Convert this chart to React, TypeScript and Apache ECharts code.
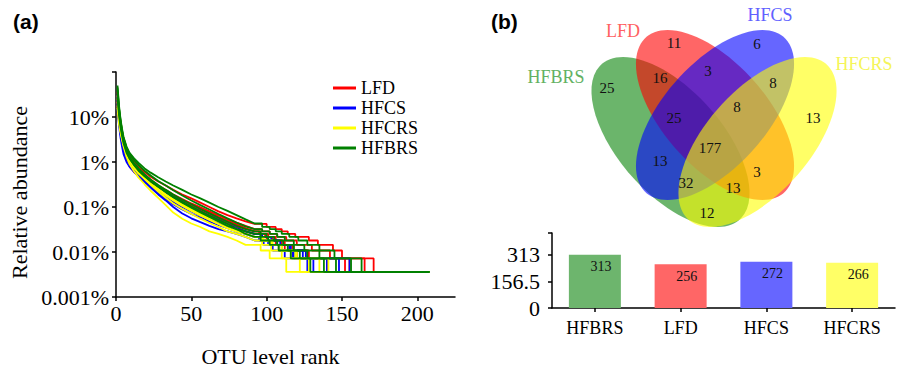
import React, { useEffect, useRef } from 'react';
import * as echarts from 'echarts';

const SERIF = '"Liberation Serif", "Times New Roman", serif';
const SANS = '"Liberation Sans", Arial, sans-serif';

// ---------- Panel (a): rank-abundance curves (relative abundance, %) ----------
const GROUPS = ['LFD', 'HFCS', 'HFCRS', 'HFBRS'];
const GROUP_COLORS = ['#ff0000', '#0000ff', '#ffff00', '#008000'];
const X_TICKS = [0, 50, 100, 150, 200];
const Y_TICKS = ['0.001%', '0.01%', '0.1%', '1%', '10%'];

const RANKS = [1, 2, 3, 4, 5, 7, 9, 12, 15, 19, 23, 28, 33, 38, 44, 50, 56, 62, 68, 74, 80, 86, 92];

const LFD_HEAD = [
  [30, 13, 7.2, 4.6, 3.3, 2.0, 1.45, 1.05, 0.8, 0.6, 0.47, 0.37, 0.3, 0.24, 0.19, 0.155, 0.125, 0.1, 0.08, 0.066, 0.056, 0.048, 0.042],
  [22, 9, 5, 3.2, 2.3, 1.5, 1.15, 0.9, 0.7, 0.52, 0.4, 0.3, 0.24, 0.19, 0.15, 0.12, 0.098, 0.08, 0.065, 0.054, 0.045, 0.038, 0.0324],
  [35, 10, 5.5, 3.6, 2.5, 1.4, 1.0, 0.72, 0.56, 0.43, 0.34, 0.27, 0.21, 0.17, 0.135, 0.11, 0.09, 0.074, 0.06, 0.05, 0.041, 0.034, 0.0288],
  [18, 8, 4.5, 2.8, 1.9, 1.25, 0.95, 0.72, 0.58, 0.45, 0.36, 0.28, 0.22, 0.18, 0.14, 0.112, 0.09, 0.072, 0.058, 0.047, 0.039, 0.0324, 0.0288],
  [26, 11, 6, 3.8, 2.4, 1.1, 0.8, 0.6, 0.48, 0.38, 0.3, 0.24, 0.19, 0.155, 0.125, 0.1, 0.082, 0.066, 0.054, 0.044, 0.036, 0.0288, 0.0252],
];
const LFD_TAIL = [
  [[100, 0.036], [106, 0.0324], [110, 0.0288], [114, 0.0252], [119, 0.0216], [128, 0.018], [134, 0.0144], [144, 0.0108], [150, 0.0072], [171, 0.0036], [208, 0.0036]],
  [[97, 0.0288], [102, 0.0252], [107, 0.0216], [113, 0.018], [120, 0.0144], [130, 0.0108], [142, 0.0072], [165, 0.0036], [208, 0.0036]],
  [[96, 0.0252], [101, 0.0216], [106, 0.018], [112, 0.0144], [118, 0.0108], [128, 0.0072], [155, 0.0036], [208, 0.0036]],
  [[95, 0.0252], [99, 0.0216], [104, 0.018], [110, 0.0144], [117, 0.0108], [127, 0.0072], [152, 0.0036], [208, 0.0036]],
  [[96, 0.0216], [100, 0.018], [106, 0.0144], [112, 0.0108], [120, 0.0072], [140, 0.0036], [208, 0.0036]],
];

const HFCS_HEAD = [
  [20, 8, 4.2, 2.7, 1.8, 1.2, 0.9, 0.68, 0.52, 0.38, 0.28, 0.2, 0.15, 0.115, 0.088, 0.07, 0.058, 0.048, 0.04, 0.034, 0.0288, 0.0252, 0.0216],
  [28, 12, 6.5, 4.0, 2.6, 1.5, 1.1, 0.8, 0.62, 0.47, 0.36, 0.27, 0.2, 0.155, 0.12, 0.094, 0.075, 0.06, 0.048, 0.04, 0.0324, 0.0288, 0.0252],
  [15, 6.5, 3.5, 2.2, 1.5, 1.0, 0.78, 0.6, 0.47, 0.36, 0.27, 0.19, 0.14, 0.1, 0.072, 0.056, 0.046, 0.038, 0.0324, 0.0288, 0.0252, 0.0216, 0.018],
  [24, 10, 5.5, 3.4, 2.2, 1.35, 1.0, 0.76, 0.6, 0.46, 0.36, 0.28, 0.22, 0.17, 0.13, 0.1, 0.08, 0.064, 0.052, 0.042, 0.034, 0.0288, 0.0252],
  [32, 11, 5.8, 3.5, 2.3, 1.3, 0.92, 0.66, 0.5, 0.37, 0.29, 0.22, 0.17, 0.13, 0.1, 0.08, 0.064, 0.052, 0.043, 0.036, 0.0288, 0.0252, 0.0216],
];
const HFCS_TAIL = [
  [[97, 0.018], [103, 0.0144], [110, 0.0108], [118, 0.0072], [131, 0.0036], [208, 0.0036]],
  [[96, 0.0216], [101, 0.018], [107, 0.0144], [115, 0.0108], [124, 0.0072], [148, 0.0036], [208, 0.0036]],
  [[98, 0.0144], [104, 0.0108], [112, 0.0072], [127, 0.0036], [208, 0.0036]],
  [[97, 0.0216], [103, 0.018], [109, 0.0144], [116, 0.0108], [126, 0.0072], [155, 0.0036], [208, 0.0036]],
  [[95, 0.018], [101, 0.0144], [108, 0.0108], [117, 0.0072], [140, 0.0036], [208, 0.0036]],
];

const HFCRS_HEAD = [
  [18, 8.5, 5, 3.2, 2.2, 1.3, 0.9, 0.62, 0.45, 0.32, 0.23, 0.16, 0.11, 0.075, 0.055, 0.043, 0.036, 0.0288, 0.0252, 0.0216, 0.018, 0.0144, 0.0144],
  [30, 14, 8, 5, 3.4, 1.8, 1.2, 0.8, 0.58, 0.42, 0.31, 0.22, 0.16, 0.12, 0.09, 0.07, 0.055, 0.044, 0.036, 0.0288, 0.0252, 0.0216, 0.018],
  [22, 10, 6, 4, 2.8, 1.6, 1.1, 0.75, 0.56, 0.42, 0.32, 0.24, 0.18, 0.14, 0.105, 0.082, 0.065, 0.052, 0.042, 0.034, 0.0288, 0.0252, 0.0216],
  [16, 7, 4.5, 3.2, 2.4, 1.5, 1.05, 0.74, 0.56, 0.43, 0.33, 0.25, 0.19, 0.15, 0.115, 0.09, 0.072, 0.058, 0.047, 0.038, 0.0324, 0.0252, 0.0216],
  [26, 12, 7, 4.4, 3.0, 1.7, 1.15, 0.8, 0.6, 0.44, 0.33, 0.25, 0.19, 0.145, 0.11, 0.085, 0.066, 0.052, 0.042, 0.034, 0.0288, 0.0252, 0.0216],
];
const HFCRS_TAIL = [
  [[96, 0.0108], [102, 0.0072], [113, 0.0036], [208, 0.0036]],
  [[97, 0.0144], [103, 0.0108], [110, 0.0072], [122, 0.0036], [208, 0.0036]],
  [[96, 0.018], [102, 0.0144], [108, 0.0108], [116, 0.0072], [128, 0.0036], [208, 0.0036]],
  [[98, 0.018], [104, 0.0144], [110, 0.0108], [119, 0.0072], [135, 0.0036], [208, 0.0036]],
  [[97, 0.018], [103, 0.0144], [110, 0.0108], [120, 0.0072], [141, 0.0036], [208, 0.0036]],
];

const HFBRS_HEAD = [
  [50, 18, 9, 5.5, 3.6, 2.2, 1.6, 1.2, 0.95, 0.72, 0.58, 0.46, 0.37, 0.3, 0.24, 0.19, 0.155, 0.125, 0.1, 0.082, 0.066, 0.053, 0.043],
  [40, 15, 8, 5, 3.4, 2.1, 1.5, 1.1, 0.85, 0.64, 0.5, 0.38, 0.3, 0.235, 0.18, 0.14, 0.11, 0.088, 0.07, 0.056, 0.045, 0.037, 0.0324],
  [34, 13, 7, 4.4, 2.9, 1.8, 1.3, 0.95, 0.72, 0.53, 0.41, 0.31, 0.24, 0.19, 0.145, 0.115, 0.09, 0.072, 0.058, 0.047, 0.038, 0.0324, 0.0288],
  [27, 11, 6, 3.8, 2.6, 1.6, 1.2, 0.88, 0.66, 0.49, 0.38, 0.29, 0.22, 0.17, 0.13, 0.102, 0.08, 0.064, 0.051, 0.042, 0.0324, 0.0288, 0.0252],
  [45, 16, 8.5, 4.8, 3.0, 1.7, 1.2, 0.85, 0.64, 0.48, 0.37, 0.28, 0.215, 0.165, 0.125, 0.097, 0.076, 0.06, 0.048, 0.038, 0.0324, 0.0252, 0.0216],
];
const HFBRS_TAIL = [
  [[97, 0.036], [102, 0.0324], [106, 0.0288], [110, 0.0252], [115, 0.0216], [121, 0.018], [127, 0.0144], [135, 0.0108], [145, 0.0072], [163, 0.0036], [208, 0.0036]],
  [[97, 0.0288], [102, 0.0252], [107, 0.0216], [112, 0.018], [118, 0.0144], [125, 0.0108], [135, 0.0072], [156, 0.0036], [208, 0.0036]],
  [[96, 0.0252], [100, 0.0216], [105, 0.018], [111, 0.0144], [118, 0.0108], [127, 0.0072], [146, 0.0036], [208, 0.0036]],
  [[96, 0.0216], [101, 0.018], [107, 0.0144], [114, 0.0108], [122, 0.0072], [138, 0.0036], [208, 0.0036]],
  [[96, 0.018], [102, 0.0144], [108, 0.0108], [116, 0.0072], [129, 0.0036], [208, 0.0036]],
];

const GROUP_HEADS = [LFD_HEAD, HFCS_HEAD, HFCRS_HEAD, HFBRS_HEAD];
const GROUP_TAILS = [LFD_TAIL, HFCS_TAIL, HFCRS_TAIL, HFBRS_TAIL];

// ---------- Panel (b): Venn diagram and OTU totals ----------
const VENN_SETS = ['HFBRS', 'LFD', 'HFCS', 'HFCRS'];
const VENN_SET_COLORS = ['rgba(0,128,0,0.58)', 'rgba(255,0,0,0.6)', 'rgba(0,0,255,0.6)', 'rgba(255,255,0,0.6)'];
const VENN_LABEL_COLORS = ['#63b163', '#ff6161', '#6161ff', '#f5f55a'];
const VENN_REGIONS = [
  'HFBRS', 'LFD', 'HFCS', 'HFCRS',
  'HFBRS&LFD', 'LFD&HFCS', 'HFCS&HFCRS',
  'HFBRS&LFD&HFCS', 'LFD&HFCS&HFCRS', 'ALL',
  'HFBRS&HFCS', 'LFD&HFCRS', 'HFBRS&HFCS&HFCRS', 'HFBRS&LFD&HFCRS', 'HFBRS&HFCRS',
];
const VENN_COUNTS = [25, 11, 6, 13, 16, 3, 8, 25, 8, 177, 13, 3, 32, 13, 12];

const BAR_CATEGORIES = ['HFBRS', 'LFD', 'HFCS', 'HFCRS'];
const BAR_VALUES = [313, 256, 272, 266];
const BAR_COLORS = ['#6db56d', '#ff6666', '#6666ff', '#ffff66'];
const BAR_TICKS = [0, 156.5, 313];

// layout (pixel positions of the Venn drawing)
const ELLIPSE_LAYOUT = [
  { x: 670.5, y: 142, rot: -Math.PI / 4 },
  { x: 715, y: 115, rot: -Math.PI / 4 },
  { x: 715, y: 115, rot: Math.PI / 4 },
  { x: 757.5, y: 142, rot: Math.PI / 4 },
];
const SET_LABEL_POS = [[556, 77], [623, 31], [770, 15], [864, 64]];
const REGION_POS = [
  [607, 88], [674, 43], [757, 44], [813, 118],
  [660, 78], [708, 71], [773, 83],
  [674, 118], [737, 107], [710, 148],
  [660, 161], [757, 172], [686, 183], [733, 188], [707, 213],
];

function buildLine(head: number[], tail: number[][]) {
  const pts: number[][] = RANKS.map((r, i) => [r, head[i]]);
  let prev = head[head.length - 1];
  tail.forEach(([r, v]) => {
    // rank-abundance stair: hold previous read level up to rank r, then drop
    pts.push([r, prev]);
    pts.push([r, v]);
    prev = v;
  });
  return pts;
}

function buildOption() {
  const lineSeries: any[] = [];
  GROUPS.forEach((g, gi) => {
    GROUP_HEADS[gi].forEach((head, li) => {
      lineSeries.push({
        name: g,
        type: 'line',
        xAxisIndex: 0,
        yAxisIndex: 0,
        data: buildLine(head, GROUP_TAILS[gi][li]),
        showSymbol: false,
        symbol: 'none',
        color: GROUP_COLORS[gi],
        lineStyle: { width: 1.8, color: GROUP_COLORS[gi] },
        emphasis: { disabled: true },
        silent: true,
      });
    });
  });

  const graphic: any[] = [
    { type: 'text', left: 13, top: 11, style: { text: '(a)', font: `bold 21px ${SANS}`, fill: '#000' } },
    { type: 'text', left: 491, top: 11, style: { text: '(b)', font: `bold 21px ${SANS}`, fill: '#000' } },
  ];
  VENN_SETS.forEach((s, i) => {
    const L = ELLIPSE_LAYOUT[i];
    graphic.push({
      type: 'group',
      x: L.x,
      y: L.y,
      scaleY: 1.076,
      children: [
        {
          type: 'ellipse',
          rotation: L.rot,
          shape: { cx: 0, cy: 0, rx: 100, ry: 50 },
          style: { fill: VENN_SET_COLORS[i] },
        },
      ],
    });
  });
  VENN_SETS.forEach((s, i) => {
    graphic.push({
      type: 'text',
      x: SET_LABEL_POS[i][0],
      y: SET_LABEL_POS[i][1],
      style: { text: s, fontSize: 18, fontFamily: SERIF, fill: VENN_LABEL_COLORS[i], align: 'center', verticalAlign: 'middle' },
    });
  });
  VENN_REGIONS.forEach((r, i) => {
    graphic.push({
      type: 'text',
      x: REGION_POS[i][0],
      y: REGION_POS[i][1],
      style: { text: String(VENN_COUNTS[i]), fontSize: 15, fontFamily: SERIF, fill: '#111', align: 'center', verticalAlign: 'middle' },
    });
  });

  const axisLine = { show: true, lineStyle: { color: '#000', width: 1.5 } };

  return {
    animation: false,
    backgroundColor: '#fff',
    textStyle: { fontFamily: SERIF },
    legend: {
      data: GROUPS,
      orient: 'vertical',
      left: 328,
      top: 73,
      icon: 'rect',
      itemWidth: 23,
      itemHeight: 3,
      itemGap: 0,
      selectedMode: false,
      textStyle: { fontSize: 18, fontFamily: SERIF, color: '#000', lineHeight: 20 },
    },
    grid: [
      { left: 116, top: 72, width: 339, height: 233 },
      { left: 552, top: 233, width: 343, height: 75 },
    ],
    xAxis: [
      {
        type: 'value',
        gridIndex: 0,
        min: X_TICKS[0],
        max: 225,
        interval: 50,
        name: 'OTU level rank',
        nameLocation: 'middle',
        nameGap: 48,
        nameTextStyle: { fontSize: 22, fontFamily: SERIF, color: '#000', padding: [0, 30, 0, 0] },
        axisLine,
        axisTick: { show: true, length: 4, lineStyle: { color: '#000', width: 1.5 } },
        axisLabel: {
          fontSize: 22,
          fontFamily: SERIF,
          color: '#000',
          margin: 5,
          showMaxLabel: false,
          formatter: (v: number) => (X_TICKS.includes(v) ? String(v) : ''),
        },
        splitLine: { show: false },
      },
      {
        type: 'category',
        gridIndex: 1,
        data: BAR_CATEGORIES,
        axisLine,
        axisTick: { show: true, alignWithLabel: true, length: 4, lineStyle: { color: '#000', width: 1.5 } },
        axisLabel: { fontSize: 18, fontFamily: SERIF, color: '#000', margin: 11 },
      },
    ],
    yAxis: [
      {
        type: 'log',
        logBase: 10,
        gridIndex: 0,
        min: 0.001,
        max: 100,
        name: 'Relative abundance',
        nameLocation: 'middle',
        nameGap: 86,
        nameTextStyle: { fontSize: 22, fontFamily: SERIF, color: '#000', padding: [0, 16, 0, 0] },
        axisLine,
        axisTick: { show: true, length: 4, lineStyle: { color: '#000', width: 1.5 } },
        axisLabel: {
          fontSize: 22,
          fontFamily: SERIF,
          color: '#000',
          margin: 7,
          formatter: (v: number) => {
            const idx = Math.round(Math.log10(v)) + 3;
            return Y_TICKS[idx] || '';
          },
        },
        splitLine: { show: false },
        minorTick: { show: false },
      },
      {
        type: 'value',
        gridIndex: 1,
        min: BAR_TICKS[0],
        max: 440,
        interval: 156.5,
        axisLine,
        axisTick: { show: true, length: 4, lineStyle: { color: '#000', width: 1.5 } },
        axisLabel: {
          fontSize: 22,
          fontFamily: SERIF,
          color: '#000',
          margin: 12,
          formatter: (v: number) => (BAR_TICKS.includes(v) ? String(v) : ''),
        },
        splitLine: { show: false },
      },
    ],
    series: [
      ...lineSeries,
      {
        name: 'OTU count',
        type: 'bar',
        xAxisIndex: 1,
        yAxisIndex: 1,
        barWidth: 52,
        silent: true,
        data: BAR_VALUES.map((v, i) => ({ value: v, itemStyle: { color: BAR_COLORS[i] } })),
        label: {
          show: true,
          position: 'insideTop',
          offset: [6, 0],
          fontSize: 14,
          fontFamily: SERIF,
          color: '#111',
        },
      },
    ],
    graphic,
  };
}

export default function App() {
  const ref = useRef<HTMLDivElement>(null);
  useEffect(() => {
    if (!ref.current) return;
    const chart = echarts.init(ref.current, null, { renderer: 'svg' });
    chart.setOption(buildOption() as any);
    return () => chart.dispose();
  }, []);
  return <div ref={ref} style={{ width: 902, height: 372, position: 'absolute', left: 0, top: 0 }} />;
}
